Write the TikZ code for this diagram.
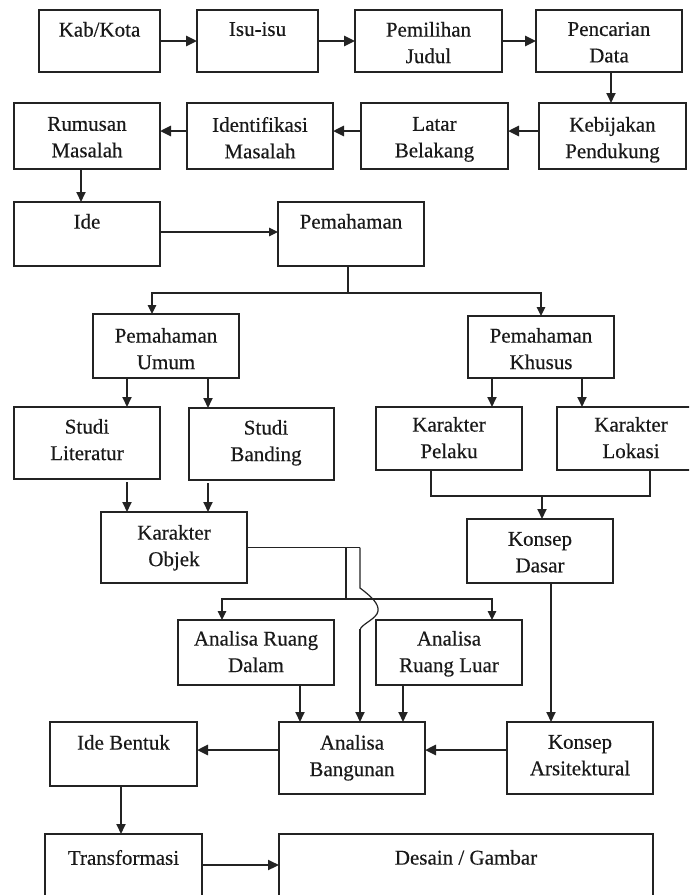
\documentclass[tikz,border=0pt]{standalone}
\usepackage{fontspec}
\setmainfont{Liberation Serif}[FakeBold=0.35]
\usetikzlibrary{arrows.meta,calc}
\definecolor{ln}{RGB}{35,35,35}
\definecolor{tx}{RGB}{25,25,25}
\tikzset{
  box/.style={draw=ln,line width=1.3pt,rectangle,inner sep=0pt,outer sep=0pt},
  txt/.style={inner sep=0pt,outer sep=0pt,align=center,text=tx,font=\fontsize{21}{26.5}\selectfont},
  thick arrow/.style={draw=ln,line width=2.6pt,-{Triangle[length=11pt,width=10pt]}},
  med arrow/.style={draw=ln,line width=1.8pt,-{Triangle[length=10pt,width=9pt]}},
  thin arrow/.style={draw=ln,line width=1.2pt,-{Triangle[length=9pt,width=8.5pt]}},
  thin line/.style={draw=ln,line width=1.2pt},
}
\newcommand\bx[8]{%
  \node[box,minimum width=#4pt,minimum height=#5pt] (#1) at (#2,#3) {};
  \node[txt,anchor=north] (#1-t) at (#6,#7-8) {#8};}
\begin{document}
\begin{tikzpicture}[x=1pt,y=-1pt]
\useasboundingbox (0,0) rectangle (689,895);
\clip (0,0) rectangle (689,895);
% row 1
\bx{kab}{99.5}{41}{121}{62}{99.5}{30}{Kab/Kota}
\bx{isu}{257.5}{41}{121}{62}{257.5}{30}{Isu-isu}
\bx{pil}{428.5}{41}{147}{62}{428.5}{30}{Pemilihan\\Judul}
\bx{pen}{609}{41}{146}{62}{609}{30}{Pencarian\\Data}
% row 2
\bx{keb}{612.5}{136}{147}{66}{612.5}{125}{Kebijakan\\Pendukung}
\bx{lat}{434.5}{136}{147}{66}{434.5}{125}{Latar\\Belakang}
\bx{idm}{260}{136}{146}{66}{260}{125}{Identifikasi\\Masalah}
\bx{rum}{87}{136}{146}{66}{87}{125}{Rumusan\\Masalah}
% row 3
\bx{ide}{87}{234}{146}{64}{87}{222}{Ide}
\bx{pem}{351}{234}{146}{64}{351}{222}{Pemahaman}
% row 4
\bx{pu}{166}{346}{146}{64}{166}{336}{Pemahaman\\Umum}
\bx{pk}{541}{347}{146}{62}{541}{336}{Pemahaman\\Khusus}
% row 5
\bx{sl}{87}{443}{146}{72}{87}{427}{Studi\\Literatur}
\bx{sb}{261.5}{444}{145}{72}{266}{428}{Studi\\Banding}
\bx{kp}{449}{438.5}{146}{63}{449}{425}{Karakter\\Pelaku}
\bx{kl}{630}{438.5}{146}{63}{631}{425}{Karakter\\Lokasi}
% row 6
\bx{ko}{174}{547.5}{146}{71}{174}{533}{Karakter\\Objek}
\bx{kd}{540}{551}{146}{64}{540}{540}{Konsep\\Dasar}
% row 7
\bx{ard}{256}{652.5}{156}{65}{256}{639}{Analisa Ruang\\Dalam}
\bx{arl}{449}{652.5}{146}{65}{449}{639}{Analisa\\Ruang Luar}
% row 8
\bx{ib}{123.5}{754}{147}{64}{123.5}{743}{Ide Bentuk}
\bx{ab}{352}{758}{146}{72}{352}{743}{Analisa\\Bangunan}
\bx{ka}{580}{758}{146}{72}{580}{743}{Konsep\\Arsitektural}
% row 9
\bx{tr}{123.5}{872}{157}{76}{123.5}{858}{Transformasi}
\bx{dg}{466}{872}{374}{76}{466}{858}{Desain / Gambar}

% row 1 connectors
\draw[thick arrow] (kab.east) -- (isu.west);
\draw[thick arrow] (isu.east) -- (pil.west);
\draw[thick arrow] (pil.east) -- (pen.west);
\draw[med arrow] ([xshift=2pt]pen.south) -- ([xshift=2pt]pen.south |- keb.north);
% row 2 connectors
\draw[thick arrow] ([yshift=5pt]keb.west) -- ([yshift=5pt]keb.west -| lat.east);
\draw[thick arrow] ([yshift=5pt]lat.west) -- ([yshift=5pt]lat.west -| idm.east);
\draw[thick arrow] ([yshift=5pt]idm.west) -- ([yshift=5pt]idm.west -| rum.east);
\draw[med arrow] ([xshift=-6pt]rum.south) -- ([xshift=-6pt]rum.south |- ide.north);
% row 3
\draw[thin arrow] ([yshift=2pt]ide.east) -- ([yshift=2pt]ide.east -| pem.west);
\coordinate (j1) at (348,293);
\draw[thin line] ([xshift=-3pt]pem.south) -- (j1);
\draw[thin arrow] (j1) -| ([xshift=-14pt]pu.north);
\draw[thin arrow] (j1) -| (pk.north);
% row 4 -> 5
\draw[med arrow] ([xshift=-39pt]pu.south) -- ([xshift=-39pt]pu.south |- sl.north);
\draw[med arrow] ([xshift=42pt]pu.south) -- ([xshift=42pt]pu.south |- sb.north);
\draw[med arrow] ([xshift=-49pt]pk.south) -- ([xshift=-49pt]pk.south |- kp.north);
\draw[med arrow] ([xshift=41pt]pk.south) -- ([xshift=41pt]pk.south |- kl.north);
% row 5 -> 6
\draw[med arrow] ([xshift=40pt,yshift=-3pt]sl.south) -- ([xshift=40pt]sl.south |- ko.north);
\draw[med arrow] ([xshift=-53.5pt,yshift=-3pt]sb.south) -- ([xshift=-53.5pt]sb.south |- ko.north);
\coordinate (j3) at (542,496);
\draw[thin line] ([xshift=-18pt]kp.south) |- (j3) -| ([xshift=20pt]kl.south);
\draw[med arrow] (j3) -- (j3 |- kd.north);
% Karakter Objek branches
\coordinate (k1) at (346,547.5);
\coordinate (k2) at (360,547.5);
\coordinate (j2) at (346,599);
\draw[thin line] (ko.east) -- (k2);
\draw[thin line] (k1) -- (j2);
\draw[thin arrow] (j2) -| ([xshift=-34pt]ard.north);
\draw[thin arrow] (j2) -| ([xshift=43pt]arl.north);
\draw[thin line] (k2) -- (360,588) .. controls (372,597) and (379,604) .. (378,611)
   .. controls (377,619) and (361,624) .. (360,630);
\draw[med arrow] (360,629) -- ([xshift=8pt]ab.north);
% row 7 -> 8
\draw[med arrow] ([xshift=44pt]ard.south) -- ([xshift=44pt]ard.south |- ab.north);
\draw[med arrow] ([xshift=-46pt]arl.south) -- ([xshift=-46pt]arl.south |- ab.north);
\draw[med arrow] ([xshift=11pt]kd.south) -- ([xshift=11pt]kd.south |- ka.north);
% row 8
\draw[thick arrow] ([yshift=8pt]ka.west) -- ([yshift=8pt]ka.west -| ab.east);
\draw[thick arrow] ([yshift=8pt]ab.west) -- ([yshift=8pt]ab.west -| ib.east);
\draw[med arrow] ([xshift=-2.5pt]ib.south) -- ([xshift=-2.5pt]ib.south |- tr.north);
% row 9
\draw[thick arrow,line width=2.2pt] ([yshift=7pt]tr.east) -- ([yshift=7pt]tr.east -| dg.west);
\end{tikzpicture}
\end{document}
